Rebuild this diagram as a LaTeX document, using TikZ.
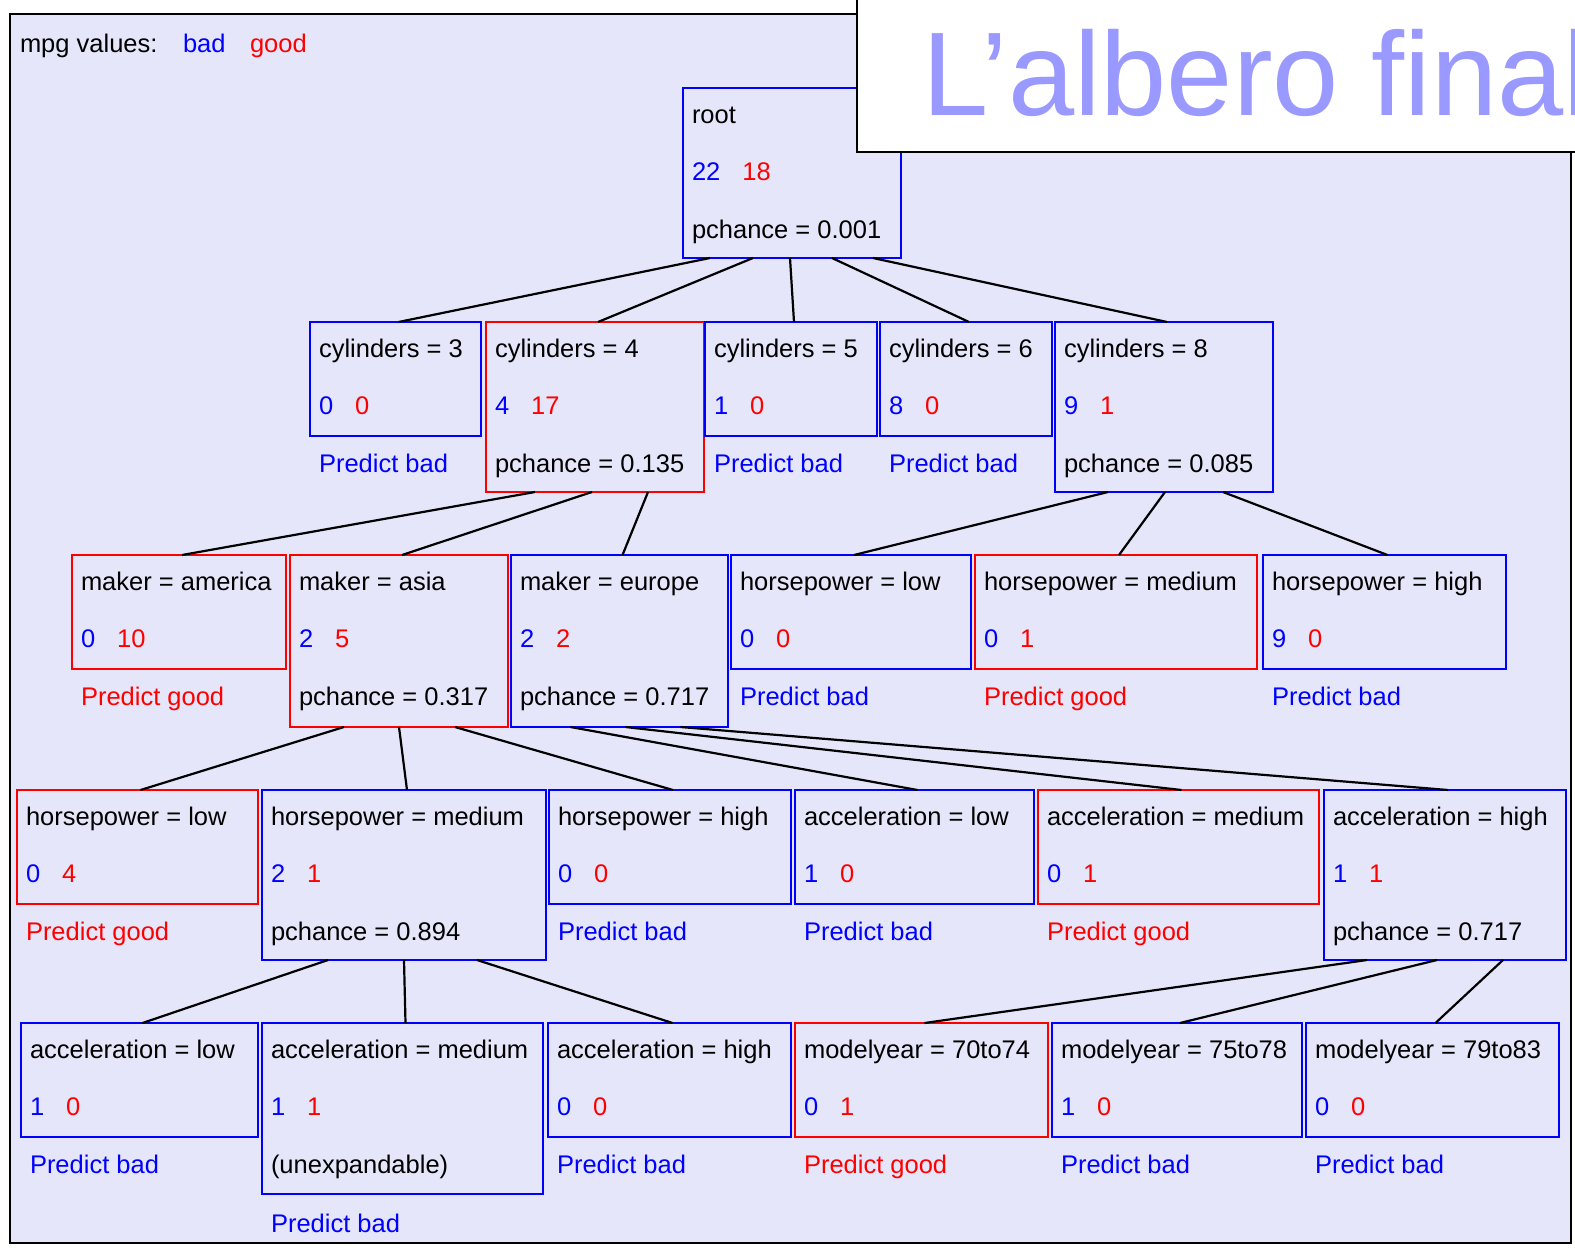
\documentclass[tikz,border=0pt]{standalone}
\usepackage{fontspec}
\setmainfont{Liberation Sans}
\newfontfamily\titlefont{Liberation Sans}
\usetikzlibrary{calc}

\definecolor{lav}{RGB}{230,230,250}
\definecolor{mblue}{RGB}{0,0,255}
\definecolor{mred}{RGB}{255,0,0}
\definecolor{titlecol}{RGB}{153,153,255}

% box: name, left, top, right, bottom, colour
\newcommand\tbox[6]{%
  \node[treebox, draw=#6, minimum width={#4-#2}, minimum height={#5-#3}]
    (#1) at ({(#2+#4)/2},{(#3+#5)/2}) {};}
% text lines of a box: name, split label, bad count, good count, third-line style, third line
\newcommand\info[6]{%
  \node[txt] (#1-a) at ($(#1.north west)+(9,35)$) {#2};
  \node[txt] (#1-b) at ($(#1.north west)+(9,92)$)
    {\textcolor{mblue}{#3}\hspace{22pt}\textcolor{mred}{#4}};
  \node[txt, #5] (#1-c) at ($(#1.north west)+(9,150)$) {#6};}
% connector from a parent (with offset along its bottom side) to a child
\newcommand\link[3]{%
  \draw[edgeline] ($(#1.south)+(#3,0)$) -- ($(#2.north)+(3,0)$);}

\begin{document}
\begin{tikzpicture}[x=1pt,y=-1pt,
  treebox/.style={rectangle, line width=2.5pt, inner sep=0pt, outer sep=0pt},
  txt/.style={anchor=base west, inner sep=0pt, outer sep=0pt,
    font=\fontsize{25.5}{30}\selectfont},
  bad/.style={text=mblue},
  good/.style={text=mred},
  stat/.style={text=black},
  edgeline/.style={line width=2.2pt, black},
]
\useasboundingbox (0,0) rectangle (1575,1251);
\fill[white] (0,0) rectangle (1575,1251);

% panel
\draw[line width=2.5pt, fill=lav] (10,14) rectangle (1571,1243);

% legend
\node[txt] (legend) at (20,52) {mpg values:};
\node[txt, text=mblue] (legbad) at (183,52) {bad};
\node[txt, text=mred] (leggood) at (250,52) {good};

% boxes
\tbox{root}{683}{88}{901}{258}{mblue}
\tbox{cylA}{310}{322}{481}{436}{mblue}
\tbox{cylB}{486}{322}{704}{492}{mred}
\tbox{cylC}{705}{322}{877}{436}{mblue}
\tbox{cylD}{880}{322}{1052}{436}{mblue}
\tbox{cylE}{1055}{322}{1273}{492}{mblue}

\tbox{mkA}{72}{555}{286}{669}{mred}
\tbox{mkB}{290}{555}{508}{727}{mred}
\tbox{mkC}{511}{555}{728}{727}{mblue}
\tbox{hpA}{731}{555}{971}{669}{mblue}
\tbox{hpB}{975}{555}{1257}{669}{mred}
\tbox{hpC}{1263}{555}{1506}{669}{mblue}

\tbox{hpD}{17}{790}{258}{904}{mred}
\tbox{hpE}{262}{790}{546}{960}{mblue}
\tbox{hpF}{549}{790}{791}{904}{mblue}
\tbox{acA}{795}{790}{1034}{904}{mblue}
\tbox{acB}{1038}{790}{1319}{904}{mred}
\tbox{acC}{1324}{790}{1566}{960}{mblue}

\tbox{acD}{21}{1023}{258}{1137}{mblue}
\tbox{acE}{262}{1023}{543}{1194}{mblue}
\tbox{acF}{548}{1023}{791}{1137}{mblue}
\tbox{myA}{795}{1023}{1048}{1137}{mred}
\tbox{myB}{1052}{1023}{1302}{1137}{mblue}
\tbox{myC}{1306}{1023}{1559}{1137}{mblue}

% texts
\info{root}{root}{22}{18}{stat}{pchance = 0.001}
\info{cylA}{cylinders = 3}{0}{0}{bad}{Predict bad}
\info{cylB}{cylinders = 4}{4}{17}{stat}{pchance = 0.135}
\info{cylC}{cylinders = 5}{1}{0}{bad}{Predict bad}
\info{cylD}{cylinders = 6}{8}{0}{bad}{Predict bad}
\info{cylE}{cylinders = 8}{9}{1}{stat}{pchance = 0.085}

\info{mkA}{maker = america}{0}{10}{good}{Predict good}
\info{mkB}{maker = asia}{2}{5}{stat}{pchance = 0.317}
\info{mkC}{maker = europe}{2}{2}{stat}{pchance = 0.717}
\info{hpA}{horsepower = low}{0}{0}{bad}{Predict bad}
\info{hpB}{horsepower = medium}{0}{1}{good}{Predict good}
\info{hpC}{horsepower = high}{9}{0}{bad}{Predict bad}

\info{hpD}{horsepower = low}{0}{4}{good}{Predict good}
\info{hpE}{horsepower = medium}{2}{1}{stat}{pchance = 0.894}
\info{hpF}{horsepower = high}{0}{0}{bad}{Predict bad}
\info{acA}{acceleration = low}{1}{0}{bad}{Predict bad}
\info{acB}{acceleration = medium}{0}{1}{good}{Predict good}
\info{acC}{acceleration = high}{1}{1}{stat}{pchance = 0.717}

\info{acD}{acceleration = low}{1}{0}{bad}{Predict bad}
\info{acE}{acceleration = medium}{1}{1}{stat}{(unexpandable)}
\node[txt, bad] (acE-d) at ($(acE.north west)+(9,209)$) {Predict bad};
\info{acF}{acceleration = high}{0}{0}{bad}{Predict bad}
\info{myA}{modelyear = 70to74}{0}{1}{good}{Predict good}
\info{myB}{modelyear = 75to78}{1}{0}{bad}{Predict bad}
\info{myC}{modelyear = 79to83}{0}{0}{bad}{Predict bad}

% connectors
\link{root}{cylA}{-82}
\link{root}{cylB}{-39}
\link{root}{cylC}{-2}
\link{root}{cylD}{40}
\link{root}{cylE}{81}

\link{cylB}{mkA}{-60}
\link{cylB}{mkB}{-3}
\link{cylB}{mkC}{53}
\link{cylE}{hpA}{-56}
\link{cylE}{hpB}{1}
\link{cylE}{hpC}{59}

\link{mkB}{hpD}{-55}
\link{mkB}{hpE}{0}
\link{mkB}{hpF}{56}
\link{mkC}{acA}{-49}
\link{mkC}{acB}{6}
\link{mkC}{acC}{61}

\link{hpE}{acD}{-76}
\link{hpE}{acE}{0}
\link{hpE}{acF}{73}
\link{acC}{myA}{-78}
\link{acC}{myB}{-8}
\link{acC}{myC}{58}

% title panel
\draw[line width=2.5pt, fill=white] (857,-10) rectangle (1600,152);
\node[anchor=base west, inner sep=0pt, text=titlecol,
  font=\titlefont\fontsize{119}{130}\selectfont] (title) at (922,115) {L’albero final};
\end{tikzpicture}
\end{document}
